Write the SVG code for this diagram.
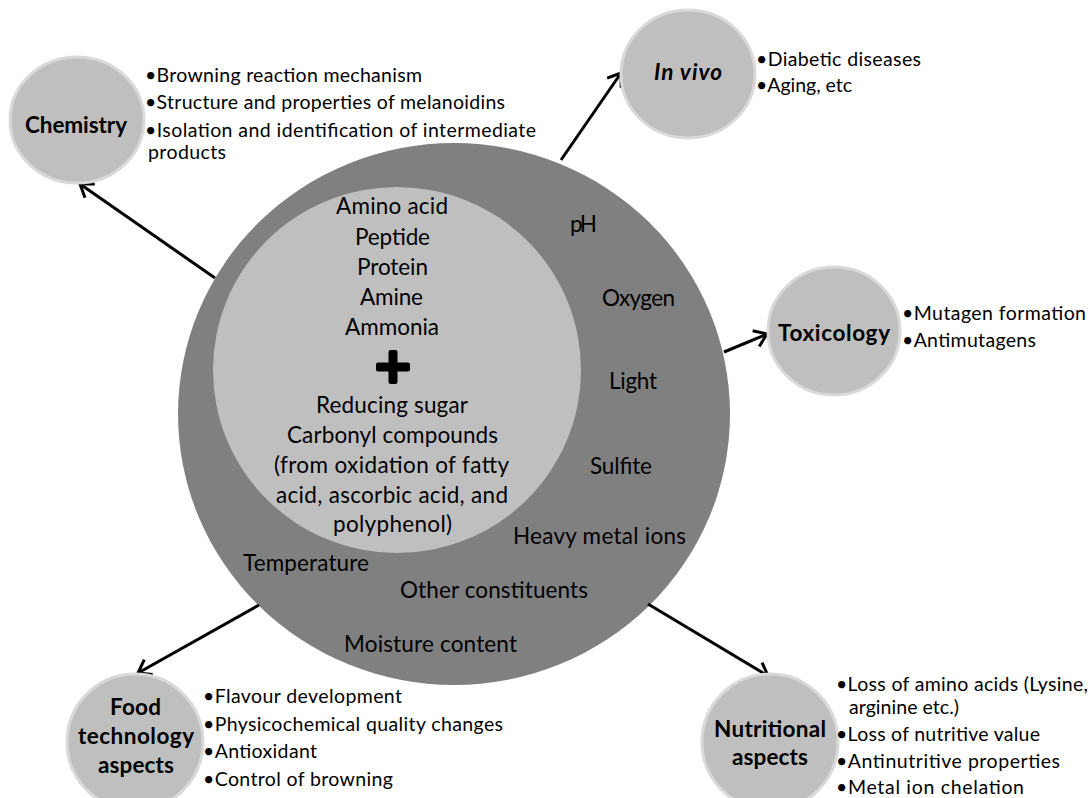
<svg xmlns="http://www.w3.org/2000/svg" width="1090" height="798" viewBox="0 0 1090 798">
<style>
text{font-family:Lato,"Open Sans","Liberation Sans",sans-serif;fill:#000;}
.b{font-size:19.5px;}
.c{font-size:22.5px;}
.l{font-size:22.5px;font-weight:bold;}
.node{fill:#bfbfbf;stroke:#d9d9d9;stroke-width:3;}
.arr{stroke:#000;stroke-width:3;fill:none;marker-end:url(#ah);}
</style>
<defs>
<marker id="ah" viewBox="0 0 20 20" markerWidth="20" markerHeight="20" refX="17" refY="10" orient="auto" markerUnits="userSpaceOnUse">
<path d="M5,1.5 L17,10 L5,18.5" stroke="#000" stroke-width="3" fill="none"/>
</marker>
</defs>
<rect width="1090" height="798" fill="#fff"/>
<g id="center">
<ellipse cx="454" cy="414" rx="276" ry="271" fill="#808080"/>
<ellipse cx="397" cy="370" rx="184" ry="183" fill="#bfbfbf"/>
<text class="c" x="336" y="214" textLength="112">Amino acid</text>
<text class="c" x="355" y="245" textLength="75">Peptide</text>
<text class="c" x="357" y="275" textLength="71">Protein</text>
<text class="c" x="360" y="305" textLength="63">Amine</text>
<text class="c" x="345" y="335" textLength="94">Ammonia</text>
<rect x="376" y="362.5" width="34" height="9" rx="2" fill="#000"/>
<rect x="388.5" y="350" width="9" height="34" rx="2" fill="#000"/>
<text class="c" x="316" y="413" textLength="152">Reducing sugar</text>
<text class="c" x="287" y="443" textLength="211">Carbonyl compounds</text>
<text class="c" x="274" y="473" textLength="235">(from oxidation of fatty</text>
<text class="c" x="276" y="503" textLength="232">acid, ascorbic acid, and</text>
<text class="c" x="333" y="532" textLength="119">polyphenol)</text>
<text class="c" x="570" y="232" textLength="27">pH</text>
<text class="c" x="602" y="306" textLength="73">Oxygen</text>
<text class="c" x="609" y="389" textLength="48">Light</text>
<text class="c" x="590" y="474" textLength="62">Sulfite</text>
<text class="c" x="513" y="544" textLength="173">Heavy metal ions</text>
<text class="c" x="243" y="571" textLength="126">Temperature</text>
<text class="c" x="400" y="598" textLength="188">Other constituents</text>
<text class="c" x="344" y="652" textLength="173">Moisture content</text>
</g>
<g id="connectors">
<line class="arr" x1="215" y1="278" x2="80" y2="184"/>
<line class="arr" x1="561" y1="160" x2="621" y2="73"/>
<line class="arr" x1="724" y1="352" x2="767" y2="334"/>
<line class="arr" x1="259" y1="605" x2="138" y2="673"/>
<line class="arr" x1="648" y1="604" x2="768" y2="676"/>
</g>
<g id="chemistry">
<ellipse class="node" cx="77" cy="120" rx="67" ry="63"/>
<text class="l" x="25" y="133" textLength="102">Chemistry</text>
<text class="b" x="145" y="82" textLength="277">•Browning reaction mechanism</text>
<text class="b" x="145" y="109" textLength="360">•Structure and properties of melanoidins</text>
<text class="b" x="145" y="137" textLength="391">•Isolation and identification of intermediate</text>
<text class="b" x="148" y="159" textLength="78">products</text>
</g>
<g id="invivo">
<ellipse class="node" cx="688" cy="74" rx="67" ry="64"/>
<text class="l" x="654" y="80" textLength="68" font-style="italic">In vivo</text>
<text class="b" x="756" y="66" textLength="165">•Diabetic diseases</text>
<text class="b" x="756" y="92" textLength="96">•Aging, etc</text>
</g>
<g id="toxicology">
<ellipse class="node" cx="834" cy="331" rx="66" ry="64"/>
<text class="l" x="778" y="341" textLength="112">Toxicology</text>
<text class="b" x="902" y="320" textLength="184">•Mutagen formation</text>
<text class="b" x="902" y="347" textLength="134">•Antimutagens</text>
</g>
<g id="foodtech">
<ellipse class="node" cx="135" cy="742" rx="68" ry="68"/>
<text class="l" x="110" y="715" textLength="51">Food</text>
<text class="l" x="78" y="744" textLength="116">technology</text>
<text class="l" x="98" y="773" textLength="76">aspects</text>
<text class="b" x="203" y="703" textLength="199">•Flavour development</text>
<text class="b" x="203" y="731" textLength="300">•Physicochemical quality changes</text>
<text class="b" x="203" y="758" textLength="114">•Antioxidant</text>
<text class="b" x="203" y="786" textLength="190">•Control of browning</text>
</g>
<g id="nutritional">
<ellipse class="node" cx="770" cy="742" rx="68" ry="68"/>
<text class="l" x="714" y="737" textLength="112">Nutritional</text>
<text class="l" x="732" y="765" textLength="76">aspects</text>
<text class="b" x="836" y="691" textLength="252">•Loss of amino acids (Lysine,</text>
<text class="b" x="849" y="714" textLength="110">arginine etc.)</text>
<text class="b" x="836" y="741" textLength="204">•Loss of nutritive value</text>
<text class="b" x="836" y="768" textLength="224">•Antinutritive properties</text>
<text class="b" x="836" y="794" textLength="188">•Metal ion chelation</text>
</g>
</svg>
